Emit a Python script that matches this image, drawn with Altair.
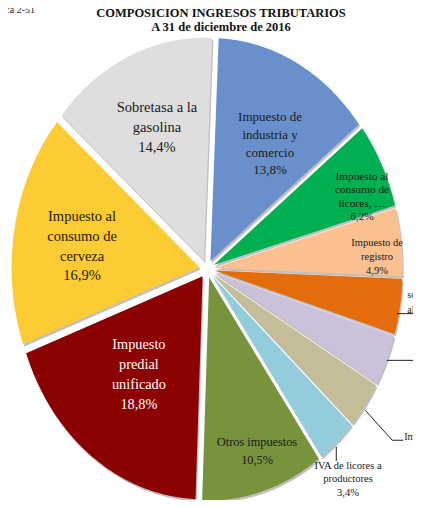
import altair as alt
import pandas as pd

# ---------------- data ----------------
CATEGORIES = [
    "Impuesto de industria y comercio",
    "Impuesto al consumo de licores",
    "Impuesto de registro",
    "Sobretasa al ACPM",
    "Impuesto al consumo de tabaco y cigarrillos",
    "Impuesto a las ventas de cerveza",
    "IVA de licores a productores",
    "Otros impuestos",
    "Impuesto predial unificado",
    "Impuesto al consumo de cerveza",
    "Sobretasa a la gasolina",
]
VALUES = [13.8, 6.2, 4.9, 4.0, 3.7, 3.4, 3.4, 10.5, 18.8, 16.9, 14.4]
LABEL_NAMES = [
    "Impuesto  de\nindustria  y\ncomercio",
    "Impuesto al\nconsumo de\nlicores, \u2026",
    "Impuesto de\nregistro",
    "sobretasa\nal ACPM",
    "Impuesto al\nconsumo de\ntabaco y\ncigarrillos",
    "Impuesto a las\nventas de\ncerveza",
    "IVA  de licores a\nproductores",
    "Otros impuestos",
    "Impuesto\npredial\nunificado",
    "Impuesto al\nconsumo de\ncerveza",
    "Sobretasa a la\ngasolina",
]
TITLE = "COMPOSICIÓN INGRESOS TRIBUTARIOS\nA 31 de diciembre  de 2016"
FIG_NUMBER = "Gráfica 2-51"

# ---------------- style ----------------
COLORS = ["#6990CC", "#00B050", "#FAC090", "#E46C0A", "#CCC1DA", "#C4BD97",
          "#93CDDD", "#77933C", "#8B0000", "#FDCB33", "#DFDDDD"]
# label placement: radius (unit = pie radius) and angle shift from slice middle (deg)
LABEL_R = [0.654, 0.885, 0.906, 1.179, 1.343, 1.473, 1.205, 0.858, 0.598, 0.672, 0.686]
LABEL_DANG = [3.5, 5.3, 3.3, -0.4, 0.6, -0.7, 3.3, -1.3, 1.3, -1.7, 0.6]
LABEL_STYLE = ["ind", "lic", "reg", "ext", "ext", "ext", "iva", "otros", "bigw", "big", "big"]
# leader polylines, pixel offsets from slice edge
LEADERS = {
    3: [(-3, 7), (22, 7)],
    4: [(0, 0), (30, 0)],
    5: [(0, 5), (27, 35), (38, 35)],
    6: [(-1, 5), (-1, 19)],
}
FONT = "Liberation Serif, Times New Roman, DejaVu Serif, serif"
W, H = 405, 492
XDOM = [-1.0585, 1.0957]
YDOM = [-1.0359, 1.1704]
PXX = W / (XDOM[1] - XDOM[0])
PXY = H / (YDOM[1] - YDOM[0])
START = 2.5 * 3.141592653589793 / 180
EX = 0.04
N = 90

pct = [f"{v:.1f}".replace(".", ",") + "%" for v in VALUES]
rows = []
for i, c in enumerate(CATEGORIES):
    pts = LEADERS.get(i, [])
    rows.append({
        "cat": c, "value": VALUES[i], "order": i,
        "label": LABEL_NAMES[i] + "\n" + pct[i],
        "lr": LABEL_R[i], "ldang": LABEL_DANG[i], "lstyle": LABEL_STYLE[i],
        "lk": list(range(len(pts))), "ldx": [p[0] for p in pts], "ldy": [p[1] for p in pts],
    })
df = pd.DataFrame(rows)

XS = alt.Scale(domain=XDOM, nice=False, zero=False)
YS = alt.Scale(domain=YDOM, nice=False, zero=False)


def base():
    return (
        alt.Chart(df)
        .transform_window(cum="sum(value)", sort=[alt.SortField("order")], frame=[None, 0])
        .transform_joinaggregate(total="sum(value)")
        .transform_calculate(
            a0=f"{START} + 2*PI*(datum.cum - datum.value)/datum.total",
            a1=f"{START} + 2*PI*datum.cum/datum.total",
        )
        .transform_calculate(mid="(datum.a0 + datum.a1)/2")
    )


def polys(dx=0.0, dy=0.0):
    return (
        base()
        .transform_calculate(k=f"sequence(0, {N + 2})")
        .transform_flatten(["k"])
        .transform_calculate(
            ang=f"datum.a0 + (datum.a1 - datum.a0)*max(datum.k - 1, 0)/{N}",
            rr="datum.k == 0 ? 0 : 1",
        )
        .transform_calculate(
            px=f"{EX}*sin(datum.mid) + datum.rr*sin(datum.ang) + {dx}",
            py=f"{EX}*cos(datum.mid) + datum.rr*cos(datum.ang) + {dy}",
        )
    )


shadow = polys(1.2 / PXX, -2.2 / PXY).mark_line(
    filled=True, color="#8a8a8a", opacity=0.55, interpolate="linear-closed"
).encode(
    x=alt.X("px:Q", scale=XS, axis=None),
    y=alt.Y("py:Q", scale=YS, axis=None),
    detail="cat:N",
    order="k:Q",
)

slices = polys().mark_line(filled=True, interpolate="linear-closed").encode(
    x=alt.X("px:Q", scale=XS, axis=None),
    y=alt.Y("py:Q", scale=YS, axis=None),
    color=alt.Color("cat:N", scale=alt.Scale(domain=CATEGORIES, range=COLORS), legend=None),
    detail="cat:N",
    order="k:Q",
)

leaders = (
    base()
    .transform_flatten(["lk", "ldx", "ldy"])
    .transform_calculate(
        qx=f"{1 + EX}*sin(datum.mid) + datum.ldx/{PXX}",
        qy=f"{1 + EX}*cos(datum.mid) - datum.ldy/{PXY}",
    )
    .mark_line(color="#222222", strokeWidth=1)
    .encode(
        x=alt.X("qx:Q", scale=XS, axis=None),
        y=alt.Y("qy:Q", scale=YS, axis=None),
        detail="cat:N",
        order="lk:Q",
    )
)

TEXT_STYLES = {
    "big": dict(fontSize=14.5, lineHeight=19.8, color="#1a1a1a"),
    "bigw": dict(fontSize=14.3, lineHeight=19.8, color="#ffffff"),
    "ind": dict(fontSize=13, lineHeight=17.8, color="#1a1a1a"),
    "otros": dict(fontSize=12.3, lineHeight=18, color="#1a1a1a"),
    "lic": dict(fontSize=11.3, lineHeight=13.5, color="#1a1a1a"),
    "reg": dict(fontSize=10.5, lineHeight=14, color="#1a1a1a"),
    "iva": dict(fontSize=10.5, lineHeight=13.5, color="#1a1a1a"),
    "ext": dict(fontSize=10, lineHeight=14.5, color="#1a1a1a"),
}

label_layers = []
for key, st in TEXT_STYLES.items():
    lh = st["lineHeight"]
    label_layers.append(
        base()
        .transform_filter(alt.FieldEqualPredicate(field="lstyle", equal=key))
        .transform_calculate(
            la="datum.mid + datum.ldang*PI/180",
            nl="length(split(datum.label, '\\n'))",
        )
        .transform_calculate(
            lx="datum.lr*sin(datum.la)",
            ly=f"datum.lr*cos(datum.la) + (datum.nl - 1)*{lh / 2}/{PXY}",
        )
        .mark_text(font=FONT, align="center", baseline="middle", lineBreak="\n", **st)
        .encode(
            x=alt.X("lx:Q", scale=XS, axis=None),
            y=alt.Y("ly:Q", scale=YS, axis=None),
            text="label:N",
        )
    )

fignum = alt.Chart(pd.DataFrame({"t": [FIG_NUMBER]})).mark_text(
    font=FONT, fontSize=10, align="right", baseline="alphabetic", color="#222222"
).encode(x=alt.value(27), y=alt.value(5), text="t:N")

title = alt.Chart(pd.DataFrame({"t": [TITLE]})).mark_text(
    font=FONT, fontSize=12.5, fontWeight="bold", align="center", baseline="alphabetic",
    lineBreak="\n", lineHeight=14, color="#111111",
).encode(x=alt.value(213), y=alt.value(9), text="t:N")

chart = alt.layer(shadow, slices, leaders, *label_layers, fignum, title).properties(
    width=W,
    height=H,
    padding=0,
    background="white",
    autosize=alt.AutoSizeParams(type="none"),
).configure_view(stroke=None)

chart.save("out.html", embed_options={"renderer": "svg", "actions": False})
